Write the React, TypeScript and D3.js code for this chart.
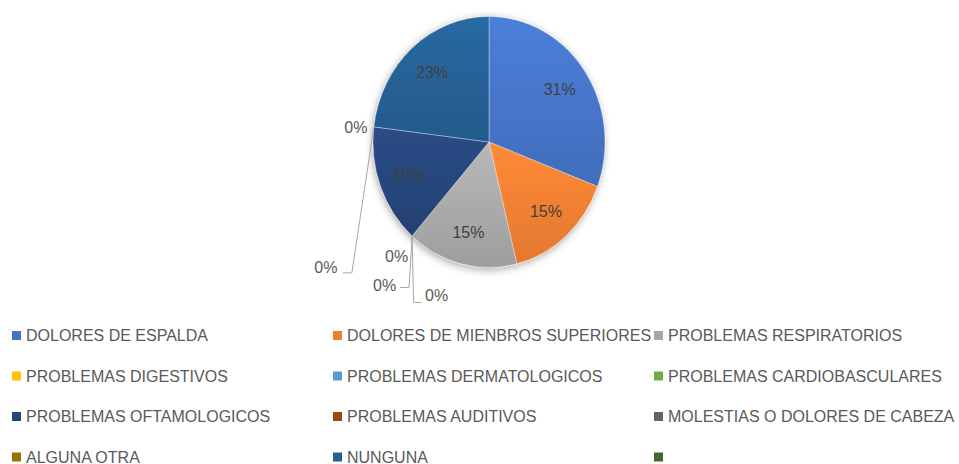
import React, { useEffect, useRef } from 'react';
import * as d3 from 'd3';

// chart data
const categories = [
    'DOLORES DE ESPALDA',
    'DOLORES DE MIENBROS SUPERIORES',
    'PROBLEMAS RESPIRATORIOS',
    'PROBLEMAS DIGESTIVOS',
    'PROBLEMAS DERMATOLOGICOS',
    'PROBLEMAS CARDIOBASCULARES',
    'PROBLEMAS OFTAMOLOGICOS',
    'PROBLEMAS AUDITIVOS',
    'MOLESTIAS O DOLORES DE CABEZA',
    'ALGUNA OTRA',
    'NUNGUNA',
    '',
];
const counts = [4, 2, 2, 0, 0, 0, 2, 0, 0, 0, 3, 0];
const colors = [
    '#4472C4', '#ED7D31', '#A5A5A5', '#FFC000', '#5B9BD5', '#70AD47',
    '#264478', '#9E480E', '#636363', '#997300', '#255E91', '#43682B',
];

// placement of the 0% labels relative to the slice edge (Excel moved them apart)
interface ZeroLabel {
    index: number;
    text: [number, number];
    leader?: [number, number][];
}
const zeroLabels: ZeroLabel[] = [
    { index: 3, text: [-15.5, 20.5] },
    { index: 4, text: [-27.5, 49.5], leader: [[-3, 51.5], [-12, 51.5]] },
    { index: 5, text: [24.5, 59.5], leader: [[1.5, 66.5], [9.5, 66.5]] },
    { index: 7, text: [-18, 1] },
    { index: 8, text: [-48, 141], leader: [[-22, 146], [-31, 146]] },
];

const WIDTH = 959;
const HEIGHT = 464;

const App: React.FC = () => {
    const svgRef = useRef<SVGSVGElement | null>(null);

    useEffect(() => {
        if (!svgRef.current) return;
        const svg = d3.select(svgRef.current);
        svg.selectAll('*').remove();

        const cx = 489;
        const cy = 142;
        const R = 125.5;
        const sx = 116 / 125.5; // the pie is a bit squeezed horizontally

        const total = d3.sum(counts);
        const pie = d3.pie<number>().sort(null).value(d => d);
        const arcs = pie(counts);
        const arc = d3.arc<d3.PieArcDatum<number>>().innerRadius(0).outerRadius(R);

        const defs = svg.append('defs');
        const shadow = defs.append('filter')
            .attr('id', 'pie-shadow')
            .attr('x', '-20%').attr('y', '-20%')
            .attr('width', '140%').attr('height', '140%');
        shadow.append('feDropShadow')
            .attr('dx', -1).attr('dy', 2)
            .attr('stdDeviation', 4)
            .attr('flood-color', '#000')
            .attr('flood-opacity', 0.35);

        colors.forEach((c, i) => {
            const g = defs.append('linearGradient')
                .attr('id', `grad-${i}`)
                .attr('x1', 0).attr('y1', 0).attr('x2', 0).attr('y2', 1);
            g.append('stop').attr('offset', '0%').attr('stop-color', d3.color(c)!.brighter(0.3).formatHex());
            g.append('stop').attr('offset', '100%').attr('stop-color', d3.color(c)!.darker(0.12).formatHex());
        });

        const pieG = svg.append('g')
            .attr('transform', `translate(${cx},${cy}) scale(${sx},1)`)
            .attr('filter', 'url(#pie-shadow)');

        pieG.selectAll('path')
            .data(arcs.filter(a => a.value > 0))
            .enter()
            .append('path')
            .attr('d', arc)
            .attr('fill', d => `url(#grad-${d.index})`)
            .attr('stroke', '#ffffff')
            .attr('stroke-opacity', 0.45)
            .attr('stroke-width', 0.75)
            .attr('vector-effect', 'non-scaling-stroke');

        const fmt = (v: number) => `${Math.round((v / total) * 100)}%`;

        // labels inside the slices
        const labelR = R * 0.74;
        svg.append('g')
            .selectAll('text')
            .data(arcs.filter(a => a.value > 0))
            .enter()
            .append('text')
            .attr('x', d => cx + sx * labelR * Math.sin((d.startAngle + d.endAngle) / 2))
            .attr('y', d => cy - labelR * Math.cos((d.startAngle + d.endAngle) / 2))
            .attr('dy', '0.35em')
            .attr('text-anchor', 'middle')
            .attr('font-family', '"Liberation Sans", Arial, sans-serif')
            .attr('font-size', 16)
            .attr('fill', '#404040')
            .text(d => fmt(d.value));

        // 0% labels with leader lines
        const zg = svg.append('g');
        zeroLabels.forEach(z => {
            const a = arcs[z.index];
            const ax = cx + sx * R * Math.sin(a.startAngle);
            const ay = cy - R * Math.cos(a.startAngle);
            if (z.leader) {
                const pts: [number, number][] = [[ax, ay], ...z.leader.map(p => [ax + p[0], ay + p[1]] as [number, number])];
                zg.append('path')
                    .attr('d', d3.line()(pts))
                    .attr('fill', 'none')
                    .attr('stroke', '#a6a6a6')
                    .attr('stroke-width', 1);
            }
            zg.append('text')
                .attr('x', ax + z.text[0])
                .attr('y', ay + z.text[1])
                .attr('dy', '0.35em')
                .attr('text-anchor', 'middle')
                .attr('font-family', '"Liberation Sans", Arial, sans-serif')
                .attr('font-size', 16)
                .attr('fill', '#595959')
                .text(fmt(a.value));
        });

        // legend: 3 columns
        const colX = d3.scaleLinear().domain([0, 1]).range([12, 333]);
        const rowY = d3.scaleLinear().domain([0, 1]).range([335.5, 376]);
        const legend = svg.append('g')
            .selectAll('g')
            .data(categories)
            .enter()
            .append('g')
            .attr('transform', (_, i) => `translate(${colX(i % 3)},${rowY(Math.floor(i / 3))})`);

        legend.append('rect')
            .attr('x', 0).attr('y', -4.5)
            .attr('width', 9).attr('height', 9)
            .attr('fill', (_, i) => colors[i]);

        legend.append('text')
            .attr('x', 14)
            .attr('y', 0)
            .attr('dy', '0.35em')
            .attr('font-family', '"Liberation Sans", Arial, sans-serif')
            .attr('font-size', 16)
            .attr('fill', '#595959')
            .text(d => d);
    }, []);

    return (
        <div style={{ position: 'absolute', left: 0, top: 0 }}>
            <svg ref={svgRef} width={WIDTH} height={HEIGHT} style={{ display: 'block', background: '#fff' }} />
        </div>
    );
};

export default App;
